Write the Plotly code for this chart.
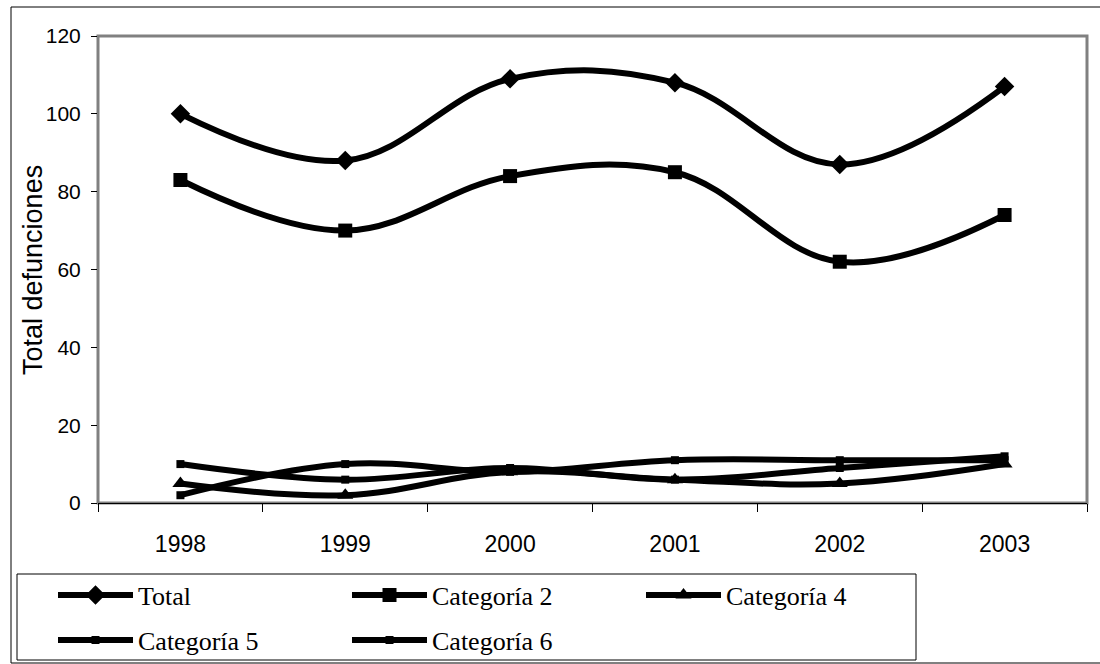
import plotly.graph_objects as go

years = ["1998", "1999", "2000", "2001", "2002", "2003"]
total = [100, 88, 109, 108, 87, 107]
cat2 = [83, 70, 84, 85, 62, 74]
cat4 = [5, 2, 8, 6, 5, 10]
cat5 = [10, 6, 9, 6, 9, 12]
cat6 = [2, 10, 8, 11, 11, 11]

series_names = ["Total", "Categoría 2", "Categoría 4", "Categoría 5", "Categoría 6"]
series_values = [total, cat2, cat4, cat5, cat6]
series_symbols = ["diamond", "square", "triangle-up", "square", "square"]
series_sizes = [15, 14, 14, 8, 8]
series_legend = ["legend", "legend", "legend", "legend2", "legend2"]
y_title = "Total defunciones"

W, H = 1100, 664
L, R, T, B = 98, 13, 36, 161
pw, ph = W - L - R, H - T - B

def px(x):
    return (x - L) / pw

def py(y):
    return (H - B - y) / ph

fig = go.Figure()
for name, vals, sym, sz, lg in zip(series_names, series_values, series_symbols, series_sizes, series_legend):
    fig.add_trace(go.Scatter(
        x=years, y=vals, name=name, mode="lines+markers", legend=lg,
        line=dict(color="black", width=6, shape="spline", smoothing=1.1),
        marker=dict(symbol=sym, size=sz, color="black"),
    ))

legend_common = dict(
    orientation="h", xanchor="left", yanchor="middle",
    borderwidth=0, bgcolor="rgba(0,0,0,0)",
    font=dict(family="Liberation Serif", size=26, color="black"),
    entrywidth=204, entrywidthmode="pixels", itemwidth=75,
)

fig.update_layout(
    width=W, height=H, autosize=False,
    margin=dict(l=L, r=R, t=T, b=B, autoexpand=False),
    paper_bgcolor="white", plot_bgcolor="white",
    showlegend=True,
    legend=dict(x=px(53), y=py(595), **legend_common),
    legend2=dict(x=px(53), y=py(640), **legend_common),
    xaxis=dict(
        type="category", range=[-0.5, 5.5], tickson="boundaries",
        ticks="outside", ticklen=8, tickcolor="black", tickwidth=1,
        showgrid=False, zeroline=False, showline=True, linecolor="black", linewidth=1,
        tickfont=dict(family="Liberation Sans", size=23, color="black"),
        ticklabelstandoff=20, automargin=False,
        fixedrange=True,
    ),
    yaxis=dict(
        range=[0, 120], dtick=20, ticks="outside", ticklen=6, tickcolor="black",
        showgrid=False, zeroline=False, showline=False,
        tickfont=dict(family="Liberation Sans", size=21, color="black"),
        ticklabelstandoff=6, automargin=False,
        fixedrange=True,
    ),
    annotations=[
        dict(text=y_title, xref="paper", yref="paper", x=px(33), y=py(270),
             xanchor="center", yanchor="middle", textangle=-90, showarrow=False,
             font=dict(family="Liberation Sans", size=27, color="black")),
    ],
    shapes=[
        dict(type="rect", xref="paper", yref="paper", x0=0, y0=0, x1=1, y1=1,
             line=dict(color="#808080", width=3), layer="below"),
        dict(type="rect", xref="paper", yref="paper", x0=px(11), y0=py(663), x1=px(1110), y1=py(7),
             line=dict(color="black", width=1), layer="below"),
        dict(type="rect", xref="paper", yref="paper", x0=px(17), y0=py(660), x1=px(916), y1=py(574),
             line=dict(color="black", width=1), layer="below"),
    ],
)

fig.write_html("out.html")
